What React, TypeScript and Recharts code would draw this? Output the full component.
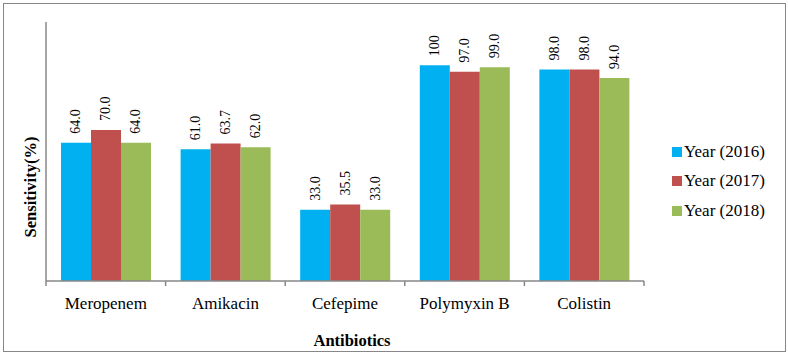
import { BarChart, Bar, XAxis, YAxis, LabelList, Label } from 'recharts';

const antibiotics = ['Meropenem', 'Amikacin', 'Cefepime', 'Polymyxin B', 'Colistin'];
const year2016 = [64.0, 61.0, 33.0, 100, 98.0];
const year2017 = [70.0, 63.7, 35.5, 97.0, 98.0];
const year2018 = [64.0, 62.0, 33.0, 99.0, 94.0];

const seriesNames = ['Year (2016)', 'Year (2017)', 'Year (2018)'];
const seriesColors = ['#00B0F0', '#C0504D', '#9BBB59'];

const data = antibiotics.map((name, i) => ({
  name,
  y2016: year2016[i],
  y2017: year2017[i],
  y2018: year2018[i],
}));

const FONT = '"Liberation Serif", "Times New Roman", serif';
const AXIS = '#878787';
const TICK_SIZE = 6;
const TICK_MARGIN = 10;

function formatValue(v: number): string {
  // the reference prints the whole hundred without a decimal
  return v === 100 ? '100' : v.toFixed(1);
}

// category name plus the small marks between categories (Excel style)
function CategoryTick(props: any) {
  const { x, y, payload, index, visibleTicksCount } = props;
  const half = payload.offset || 0;
  const axisY = y - TICK_SIZE - TICK_MARGIN;
  const edges = [x - half];
  if (index === visibleTicksCount - 1) edges.push(x + half);
  return (
    <g>
      {edges.map((ex) => (
        <line key={ex} x1={ex} x2={ex} y1={axisY} y2={axisY + 5} stroke={AXIS} strokeWidth={1.5} />
      ))}
      <text x={x} y={y} dy="0.71em" textAnchor="middle" fontSize={17} fontFamily={FONT} fill="#000">
        {payload.value}
      </text>
    </g>
  );
}

// rotated value label above each bar
function ValueLabel(props: any) {
  const { x, y, width, value } = props;
  const cx = Number(x) + Number(width) / 2;
  const cy = Number(y) - 9;
  return (
    <text
      x={cx}
      y={cy}
      transform={`rotate(-90, ${cx}, ${cy})`}
      textAnchor="start"
      dominantBaseline="central"
      fontSize={14}
      fontFamily={FONT}
      fill="#000"
    >
      {formatValue(Number(value))}
    </text>
  );
}

export default function App() {
  return (
    <div style={{ position: 'absolute', left: 0, top: 0, width: 788, height: 354, background: '#fff' }}>
      <div
        style={{
          position: 'absolute',
          left: 3,
          top: 3,
          width: 781,
          height: 347,
          border: '1.5px solid ' + AXIS,
        }}
      />
      <div style={{ position: 'absolute', left: 0, top: 0 }}>
        <BarChart
          width={788}
          height={354}
          data={data}
          margin={{ top: 22, right: 144, left: 16, bottom: 0 }}
          barCategoryGap={15}
          barGap={0}
        >
          <XAxis
            dataKey="name"
            axisLine={{ stroke: AXIS, strokeWidth: 1.5 }}
            tickLine={false}
            tick={<CategoryTick />}
            tickSize={TICK_SIZE}
            tickMargin={TICK_MARGIN}
            interval={0}
            height={73}
          >
            <Label
              content={() => (
                <text x={352} y={340} textAnchor="middle" dominantBaseline="central" fontSize={16.5} fontWeight="bold" fontFamily={FONT} fill="#000">
                  Antibiotics
                </text>
              )}
            />
          </XAxis>
          <YAxis
            domain={[0, 120]}
            width={30}
            tick={false}
            tickLine={false}
            axisLine={{ stroke: AXIS, strokeWidth: 1.5 }}
          >
            <Label
              content={() => (
                <text
                  x={30}
                  y={187}
                  transform="rotate(-90, 30, 187)"
                  textAnchor="middle"
                  dominantBaseline="central"
                  fontSize={16.5}
                  fontWeight="bold"
                  fontFamily={FONT}
                  fill="#000"
                >
                  Sensitivity(%)
                </text>
              )}
            />
          </YAxis>
          <Bar dataKey="y2016" name={seriesNames[0]} fill={seriesColors[0]} isAnimationActive={false}>
            <LabelList dataKey="y2016" content={ValueLabel} />
          </Bar>
          <Bar dataKey="y2017" name={seriesNames[1]} fill={seriesColors[1]} isAnimationActive={false}>
            <LabelList dataKey="y2017" content={ValueLabel} />
          </Bar>
          <Bar dataKey="y2018" name={seriesNames[2]} fill={seriesColors[2]} isAnimationActive={false}>
            <LabelList dataKey="y2018" content={ValueLabel} />
          </Bar>
        </BarChart>
      </div>
      <div style={{ position: 'absolute', left: 672, top: 137, fontFamily: FONT, fontSize: 17, color: '#000' }}>
        {seriesNames.map((name, i) => (
          <div key={name} style={{ display: 'flex', alignItems: 'center', height: 29.5 }}>
            <div style={{ width: 10, height: 10, background: seriesColors[i], marginRight: 2 }} />
            <span>{name}</span>
          </div>
        ))}
      </div>
    </div>
  );
}
